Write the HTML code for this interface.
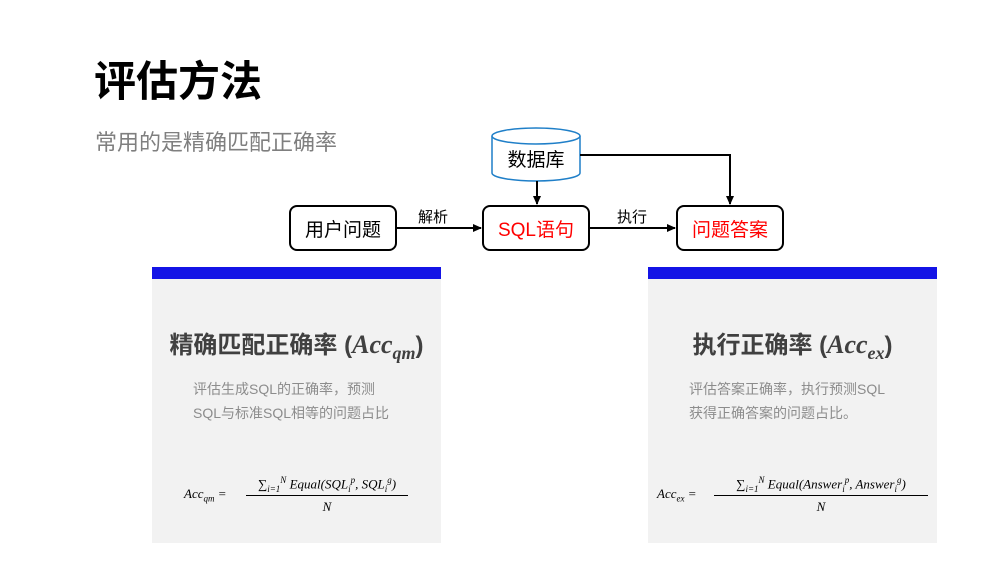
<!DOCTYPE html>
<html><head><meta charset="utf-8"><style>
body{margin:0;width:995px;height:585px;background:#fff;position:relative;overflow:hidden;font-family:"Liberation Sans","Noto Sans CJK SC",sans-serif}
.a{position:absolute}
.box{position:absolute;border:2px solid #000;border-radius:8px;background:#fff;display:flex;align-items:center;justify-content:center;font-size:19px;box-sizing:border-box}
.m{font-family:"Liberation Serif","DejaVu Serif",serif;font-style:italic}
.panel{position:absolute;top:279px;width:289px;height:264px;background:#f2f2f2}
.bar{position:absolute;top:267px;width:289px;height:12px;background:#1414e6}
.pt{position:absolute;left:-10px;width:309px;text-align:center;top:46px;font-size:24px;font-weight:bold;color:#404040;white-space:nowrap}
.pd{position:absolute;font-size:14px;color:#8c8c8c;line-height:24px}
.f{position:absolute;top:196px;left:0;width:289px;font-size:13px;color:#000}
.f sub,.f sup{font-size:9px}
</style></head><body>
<div class="a" style="left:94px;top:48px;font-size:42px;font-weight:bold;color:#000">评估方法</div>
<div class="a" style="left:95px;top:125px;font-size:22px;color:#7f7f7f">常用的是精确匹配正确率</div>

<svg class="a" style="left:0;top:0" width="995" height="585">
<defs><marker id="ar" markerWidth="10" markerHeight="10" refX="8" refY="5" orient="auto" markerUnits="userSpaceOnUse"><path d="M0,1 L9,5 L0,9z" fill="#000"/></marker></defs>
<path d="M492,136 L492,173 A44,8 0 0 0 580,173 L580,136" fill="#fff" stroke="#1f7fc8" stroke-width="1.5"/>
<ellipse cx="536" cy="136" rx="44" ry="8" fill="#fff" stroke="#1f7fc8" stroke-width="1.5"/>
<line x1="537" y1="181" x2="537" y2="204" stroke="#000" stroke-width="2" marker-end="url(#ar)"/>
<polyline points="580,155 730,155 730,204" fill="none" stroke="#000" stroke-width="2" marker-end="url(#ar)"/>
<line x1="397" y1="228" x2="481" y2="228" stroke="#000" stroke-width="2" marker-end="url(#ar)"/>
<line x1="590" y1="228" x2="675" y2="228" stroke="#000" stroke-width="2" marker-end="url(#ar)"/>
</svg>
<div class="a" style="left:492px;top:145px;width:88px;text-align:center;font-size:19px">数据库</div>
<div class="a" style="left:418px;top:206px;font-size:15px">解析</div>
<div class="a" style="left:617px;top:206px;font-size:15px">执行</div>
<div class="box" style="left:289px;top:205px;width:108px;height:46px">用户问题</div>
<div class="box" style="left:482px;top:205px;width:108px;height:46px;color:#f00">SQL语句</div>
<div class="box" style="left:676px;top:205px;width:108px;height:46px;color:#f00">问题答案</div>

<div class="bar" style="left:152px"></div>
<div class="panel" style="left:152px">
<div class="pt">精确匹配正确率 (<span class="m" style="font-size:26px">Acc<sub style="font-size:18px">qm</sub></span>)</div>
<div class="pd" style="left:41px;top:98px">评估生成SQL的正确率，预测<br>SQL与标准SQL相等的问题占比</div>
<div class="f m"><span style="position:absolute;left:32px;top:11px">Acc<sub>qm</sub> =</span>
<span style="position:absolute;left:94px;top:0;width:162px;text-align:center;border-bottom:1px solid #000;padding-bottom:1px;white-space:nowrap">∑<sub>i=1</sub><sup>N</sup> Equal(SQL<sub>i</sub><sup>p</sup>,  SQL<sub>i</sub><sup>g</sup>)</span>
<span style="position:absolute;left:94px;top:24px;width:162px;text-align:center">N</span></div>
</div>

<div class="bar" style="left:648px"></div>
<div class="panel" style="left:648px">
<div class="pt">执行正确率 (<span class="m" style="font-size:26px">Acc<sub style="font-size:18px">ex</sub></span>)</div>
<div class="pd" style="left:41px;top:98px">评估答案正确率，执行预测SQL<br>获得正确答案的问题占比。</div>
<div class="f m"><span style="position:absolute;left:9px;top:11px">Acc<sub>ex</sub> =</span>
<span style="position:absolute;left:66px;top:0;width:214px;text-align:center;border-bottom:1px solid #000;padding-bottom:1px;white-space:nowrap">∑<sub>i=1</sub><sup>N</sup> Equal(Answer<sub>i</sub><sup>p</sup>,  Answer<sub>i</sub><sup>g</sup>)</span>
<span style="position:absolute;left:66px;top:24px;width:214px;text-align:center">N</span></div>
</div>
</body></html>
